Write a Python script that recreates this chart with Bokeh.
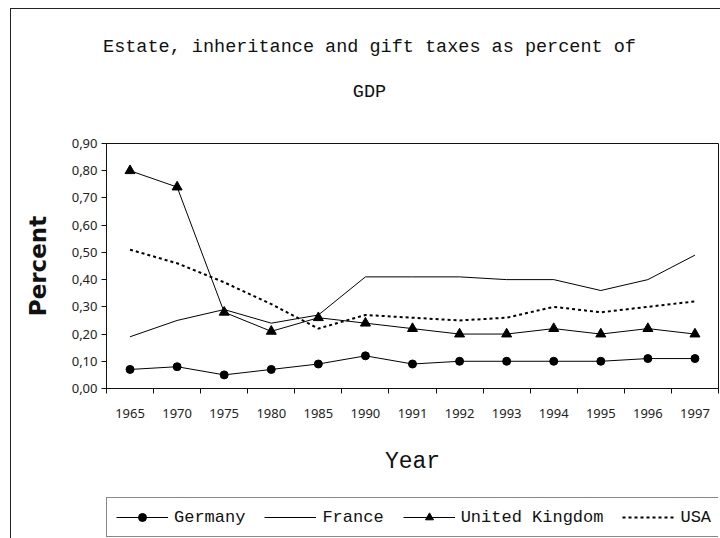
from bokeh.plotting import figure
from bokeh.models import FixedTicker, Legend, LegendItem, Range1d, Div
from bokeh.layouts import column
from bokeh.embed import file_html
from bokeh.resources import INLINE

# ---- data ----
years = ["1965", "1970", "1975", "1980", "1985", "1990", "1991", "1992",
         "1993", "1994", "1995", "1996", "1997"]
germany = [0.07, 0.08, 0.05, 0.07, 0.09, 0.12, 0.09, 0.10, 0.10, 0.10, 0.10, 0.11, 0.11]
france = [0.19, 0.25, 0.29, 0.24, 0.27, 0.41, 0.41, 0.41, 0.40, 0.40, 0.36, 0.40, 0.49]
uk = [0.80, 0.74, 0.28, 0.21, 0.26, 0.24, 0.22, 0.20, 0.20, 0.22, 0.20, 0.22, 0.20]
usa = [0.51, 0.46, 0.39, 0.31, 0.22, 0.27, 0.26, 0.25, 0.26, 0.30, 0.28, 0.30, 0.32]
series_names = ["Germany", "France", "United Kingdom", "USA"]
y_ticks = [0.0, 0.1, 0.2, 0.3, 0.4, 0.5, 0.6, 0.7, 0.8, 0.9]
y_tick_labels = ["0,00", "0,10", "0,20", "0,30", "0,40", "0,50", "0,60",
                 "0,70", "0,80", "0,90"]
title_lines = ["Estate, inheritance and gift taxes as percent of", "GDP"]

x = [i + 0.5 for i in range(len(years))]

MONO = "Liberation Mono"
SANS = "Noto Sans"
W = 709

# ---- title ----
title_div = Div(
    text=('<div style="font-family:\'Liberation Mono\';font-size:18.5px;'
          'line-height:45px;text-align:center;color:#111111;width:709px;'
          'padding-top:16px;padding-left:8px;white-space:nowrap">'
          + title_lines[0] + '<br>' + title_lines[1] + '</div>'),
    width=W, height=110, margin=0)

# ---- main chart ----
fig = figure(frame_width=612, frame_height=245,
             min_border_left=95, min_border_right=2,
             min_border_top=24, min_border_bottom=104,
             x_range=Range1d(0, len(years)), y_range=Range1d(0, 0.9),
             output_backend="svg", toolbar_location=None,
             background_fill_color="white", border_fill_color="white")

fig.xgrid.grid_line_color = None
fig.ygrid.grid_line_color = None
fig.outline_line_color = "#111111"
fig.outline_line_width = 1

# x axis: labels at category centres, ticks between categories
fig.xaxis.ticker = FixedTicker(ticks=x, minor_ticks=list(range(len(years) + 1)))
fig.xaxis.major_label_overrides = {xv: yl for xv, yl in zip(x, years)}
fig.xaxis.major_tick_line_color = None
fig.xaxis.major_tick_out = 0
fig.xaxis.major_tick_in = 0
fig.xaxis.minor_tick_out = 5
fig.xaxis.minor_tick_in = 0
fig.xaxis.minor_tick_line_color = "#111111"
fig.xaxis.major_label_standoff = 15
fig.xaxis.major_label_text_font = SANS
fig.xaxis.major_label_text_font_size = "13px"
fig.xaxis.major_label_text_color = "#222222"
fig.xaxis.axis_label = "Year"
fig.xaxis.axis_label_text_font = MONO
fig.xaxis.axis_label_text_font_style = "normal"
fig.xaxis.axis_label_text_font_size = "23px"
fig.xaxis.axis_label_text_color = "#111111"
fig.xaxis.axis_label_standoff = 28
fig.xaxis.axis_line_color = "#111111"

# y axis
fig.yaxis.ticker = FixedTicker(ticks=y_ticks, minor_ticks=[])
fig.yaxis.major_label_overrides = {t: l for t, l in zip(y_ticks, y_tick_labels)}
fig.yaxis.major_tick_out = 5
fig.yaxis.major_tick_in = 0
fig.yaxis.minor_tick_line_color = None
fig.yaxis.major_tick_line_color = "#111111"
fig.yaxis.major_label_standoff = 4
fig.yaxis.major_label_text_font = SANS
fig.yaxis.major_label_text_font_size = "13px"
fig.yaxis.major_label_text_color = "#222222"
fig.yaxis.axis_label = "Percent"
fig.yaxis.axis_label_text_font = "DejaVu Sans"
fig.yaxis.axis_label_text_font_style = "bold"
fig.yaxis.axis_label_text_font_size = "23px"
fig.yaxis.axis_label_text_color = "#111111"
fig.yaxis.axis_label_standoff = 18
fig.yaxis.axis_line_color = "#111111"

# series
fig.line(x, germany, line_color="black", line_width=1)
fig.scatter(x, germany, marker="circle", size=8, fill_color="black", line_color="black")
fig.line(x, france, line_color="black", line_width=1)
fig.line(x, uk, line_color="black", line_width=1)
fig.scatter(x, uk, marker="triangle", size=10, fill_color="black", line_color="black")
fig.line(x, usa, line_color="black", line_width=2, line_dash="3 3")

# ---- legend strip: same series and styles, ranges chosen so only the legend shows ----
lf = figure(width=W, height=47, min_border=0,
            x_range=Range1d(100, 101), y_range=Range1d(100, 101),
            x_axis_location=None, y_axis_location=None,
            output_backend="svg", toolbar_location=None,
            background_fill_color="white", border_fill_color="white")
lf.grid.visible = False
lf.outline_line_color = None

lg_line = lf.line(x, germany, line_color="black", line_width=1)
lg_pts = lf.scatter(x, germany, marker="circle", size=8, fill_color="black", line_color="black")
lfr_line = lf.line(x, france, line_color="black", line_width=1)
lu_line = lf.line(x, uk, line_color="black", line_width=1)
lu_pts = lf.scatter(x, uk, marker="triangle", size=10, fill_color="black", line_color="black")
lus_line = lf.line(x, usa, line_color="black", line_width=2, line_dash="3 3")

legend = Legend(items=[
    LegendItem(label=series_names[0], renderers=[lg_line, lg_pts]),
    LegendItem(label=series_names[1], renderers=[lfr_line]),
    LegendItem(label=series_names[2], renderers=[lu_line, lu_pts]),
    LegendItem(label=series_names[3], renderers=[lus_line]),
], orientation="horizontal", location=(0, 2))
legend.border_line_color = "#111111"
legend.border_line_width = 1
legend.padding = 9
legend.spacing = 19
legend.margin = 0
legend.glyph_width = 52
legend.glyph_height = 20
legend.label_height = 20
legend.label_standoff = 6
legend.label_text_font = MONO
legend.label_text_font_size = "17px"
legend.label_text_color = "#111111"
legend.background_fill_color = "white"
legend.background_fill_alpha = 1
lf.add_layout(legend)

p = column(title_div, fig, lf, spacing=0,
           styles={"border-left": "1px solid #222222",
                   "border-top": "1px solid #222222",
                   "margin-left": "10px", "margin-top": "8px"})

open("out.html", "w").write(file_html(p, INLINE))
